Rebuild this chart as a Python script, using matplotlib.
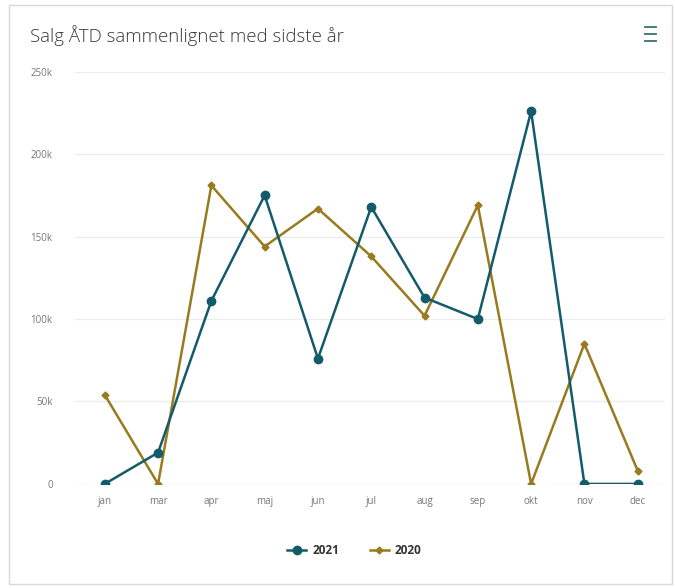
import matplotlib.pyplot as plt
from matplotlib.patches import Rectangle
from matplotlib.lines import Line2D
from matplotlib.ticker import FuncFormatter

plt.rcParams['font.family'] = ['Open Sans', 'DejaVu Sans']

months = ['jan', 'mar', 'apr', 'maj', 'jun', 'jul', 'aug', 'sep', 'okt', 'nov', 'dec']
sales_2021 = [0, 19000, 111000, 175000, 76000, 168000, 113000, 100000, 226000, 0, 0]
sales_2020 = [54000, 0, 181000, 144000, 167000, 138000, 102000, 169000, 0, 85000, 8000]

c2021 = '#135b6b'
c2020 = '#9a7a1e'

fig = plt.figure(figsize=(6.75, 5.88), dpi=100)
fig.patches.append(Rectangle((0.013, 0.007), 0.983, 0.984, transform=fig.transFigure,
                             fill=False, edgecolor='#d9d9d9', linewidth=1))

ax = fig.add_axes([0.111, 0.177, 0.874, 0.701])
x = list(range(len(months)))
ax.plot(x, sales_2021, color=c2021, marker='o', markersize=6, linewidth=1.8, label='2021', zorder=3)
ax.plot(x, sales_2020, color=c2020, marker='D', markersize=3.5, linewidth=1.8, label='2020', zorder=2)

ax.set_ylim(0, 250000)
ax.set_xlim(-0.56, 10.51)
ax.set_yticks([0, 50000, 100000, 150000, 200000, 250000])
ax.yaxis.set_major_formatter(FuncFormatter(lambda v, p: '0' if v == 0 else f'{int(v/1000)}k'))
ax.set_xticks(x)
ax.set_xticklabels(months)
ax.grid(axis='y', color='#ececec', linewidth=1)
ax.set_axisbelow(True)
for s in ax.spines.values():
    s.set_visible(False)
ax.tick_params(length=0, labelsize=7, labelcolor='#777777')
ax.tick_params(axis='y', pad=16)
ax.tick_params(axis='x', pad=9)

fig.text(0.044, 0.94, 'Salg ÅTD sammenlignet med sidste år', fontsize=13.4, color='#3a3a3a',
         va='center', fontweight='light')

# hamburger menu icon
for yy in (0.954, 0.942, 0.930):
    fig.add_artist(Line2D([0.956, 0.972], [yy, yy], transform=fig.transFigure,
                          color='#3d6e72', linewidth=1.3))

leg = fig.legend(loc='center', bbox_to_anchor=(0.525, 0.064), ncol=2, frameon=False,
                 fontsize=8.5, handlelength=1.6, columnspacing=2.6, handletextpad=0.5)
for t in leg.get_texts():
    t.set_fontweight('bold')
    t.set_color('#333333')

fig.savefig('out.png', dpi=100)
